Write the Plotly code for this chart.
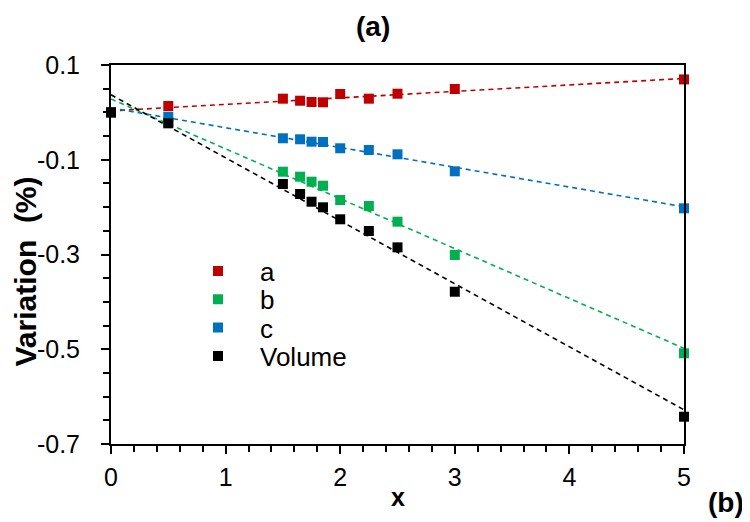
import numpy as np
import plotly.graph_objects as go

x_vals = [0, 0.5, 1.5, 1.65, 1.75, 1.85, 2.0, 2.25, 2.5, 3.0, 5.0]
a_vals = [0.0, 0.0135, 0.0289, 0.0246, 0.0219, 0.0213, 0.0388, 0.0289, 0.0394, 0.0493, 0.0696]
b_vals = [0.0, -0.020, -0.1252, -0.1358, -0.1463, -0.1548, -0.185, -0.1976, -0.2307, -0.301, -0.5085]
c_vals = [0.0, -0.0091, -0.0547, -0.0568, -0.0619, -0.0625, -0.0758, -0.0794, -0.0885, -0.1244, -0.2025]
v_vals = [0.0, -0.0231, -0.1512, -0.1723, -0.1886, -0.2004, -0.2257, -0.2504, -0.2849, -0.3786, -0.6424]

series_names = ["a", "b", "c", "Volume"]
series_vals = [a_vals, b_vals, c_vals, v_vals]
series_colors = ["#c00000", "#00b050", "#0070c0", "#000000"]

x_ticks = [0, 1, 2, 3, 4, 5]
y_ticks = [0.1, -0.1, -0.3, -0.5, -0.7]

FONT = "Liberation Sans, Arial, sans-serif"

# plot area in screen pixels (page has an 8px body margin)
PL, PR, PT, PB = 111, 684, 65, 444
PW, PH = PR - PL, PB - PT


def px(X):
    return (X - PL) / PW


def py(Y):
    return (PB - Y) / PH


fig = go.Figure()
xs = np.array(x_vals)
line_x = np.array([0.0, 5.0])
for name, vals, col in zip(series_names, series_vals, series_colors):
    slope, icpt = np.polyfit(xs, np.array(vals), 1)
    fig.add_trace(go.Scatter(x=line_x, y=slope * line_x + icpt, mode="lines",
                             line=dict(color=col, width=1.6, dash="5px,4px"),
                             showlegend=False, hoverinfo="skip", cliponaxis=False))

legend_ids = ["legend", "legend2", "legend3", "legend4"]
legend_y_px = [271, 299.3, 327.7, 356]
for name, vals, col, lid in zip(series_names, series_vals, series_colors, legend_ids):
    fig.add_trace(go.Scatter(x=x_vals, y=vals, mode="markers", name=name,
                             marker=dict(symbol="square", size=10, color=col),
                             cliponaxis=False, legend=lid))

legend_x_px = 176
legend_layout = {}
for lid, ly in zip(legend_ids, legend_y_px):
    legend_layout[lid] = dict(x=px(legend_x_px), y=py(ly), xanchor="left", yanchor="middle",
                              bgcolor="rgba(0,0,0,0)", borderwidth=0,
                              font=dict(size=26, family=FONT, color="black"),
                              itemwidth=74)

fig.update_layout(
    width=750, height=522,
    margin=dict(l=PL - 8, r=750 - (PR - 8), t=PT - 8, b=522 - (PB - 8)),
    paper_bgcolor="white", plot_bgcolor="white",
    font=dict(family=FONT, size=25, color="black"),
    showlegend=True,
    annotations=[
        dict(text="<b>(a)</b>", x=px(373), y=py(27), xref="paper", yref="paper",
             xanchor="center", yanchor="middle", showarrow=False,
             font=dict(size=28, family=FONT)),
        dict(text="<b>(b)</b>", x=px(726), y=py(502), xref="paper", yref="paper",
             xanchor="center", yanchor="middle", showarrow=False,
             font=dict(size=28, family=FONT)),
        dict(text="<b>x</b>", x=px(398), y=py(497), xref="paper", yref="paper",
             xanchor="center", yanchor="middle", showarrow=False,
             font=dict(size=25, family=FONT)),
        dict(text="<b>Variation  (%)</b>", x=px(25), y=py(271.5), xref="paper", yref="paper",
             xanchor="center", yanchor="middle", textangle=-90, showarrow=False,
             font=dict(size=30, family=FONT)),
    ],
    **legend_layout,
)

fig.update_xaxes(range=[0, 5], tickvals=x_ticks, ticktext=[str(t) for t in x_ticks],
                 ticks="outside", ticklen=8, tickwidth=2, tickcolor="black",
                 ticklabelstandoff=2,
                 showline=True, linewidth=2, linecolor="black", mirror=True,
                 showgrid=False, zeroline=False,
                 tickfont=dict(size=25, family=FONT),
                 minor=dict(dtick=0.2, tick0=0, ticks="outside", ticklen=6,
                            tickwidth=1.5, tickcolor="black", showgrid=False))
fig.update_yaxes(range=[-0.7, 0.1], tickvals=y_ticks, ticktext=[f"{t:.1f}" for t in y_ticks],
                 ticks="outside", ticklen=8, tickwidth=2, tickcolor="black",
                 ticklabelstandoff=16,
                 showline=True, linewidth=2, linecolor="black", mirror=True,
                 showgrid=False, zeroline=False,
                 tickfont=dict(size=25, family=FONT),
                 minor=dict(dtick=0.05, tick0=0.1, ticks="outside", ticklen=6,
                            tickwidth=1.5, tickcolor="black", showgrid=False))

fig.write_html("out.html")
